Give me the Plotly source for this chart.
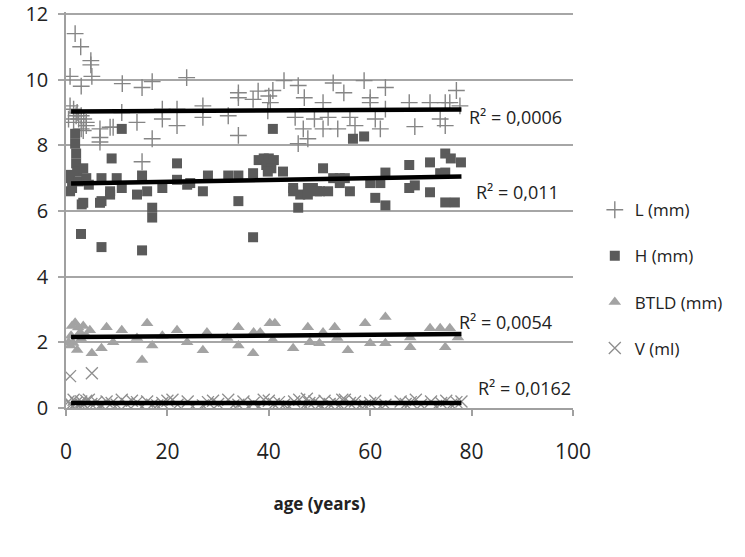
import plotly.graph_objects as go

# ---------------- data ----------------
L_age = [0.8, 1.8, 2.9, 4.9, 4.9, 5.1, 3.0, 11.1, 15, 17, 23.8,
         0.8, 1.5, 2, 2.5, 3, 3.5, 4, 1.5, 3, 4, 3.4, 0.5, 2.2,
         6.7, 6.7, 6.7, 8.7, 9.3, 11, 14, 15, 17, 19, 19, 21.9, 21.9,
         27, 27, 32, 34, 34, 34, 36.9, 37.9, 40, 40.3, 39.8, 40.8, 43, 45.2, 45.8, 47, 46.8, 47.7, 45.8, 49, 50.7, 50.7, 51.7,
         52.7, 53.6, 54.8, 56, 57, 58.8, 60, 60, 61, 62, 63, 63, 67.7, 68.8, 71.8, 74.8, 75.7, 73.8, 74.8, 77, 77.7]
L_val = [10.1, 11.4, 11.0, 10.58, 10.45, 10.1, 9.8, 9.88, 9.76, 9.94, 10.06,
         9.2, 9.1, 8.9, 8.8, 8.9, 8.8, 8.6, 8.7, 8.5, 8.7, 8.45, 8.8, 9.0,
         8.5, 8.24, 8.1, 8.55, 8.55, 9.0, 8.7, 7.5, 8.2, 9.1, 8.8, 9.1, 8.6,
         9.2, 8.85, 8.9, 9.6, 9.45, 8.3, 9.4, 9.65, 9.5, 9.3, 9.05, 9.67, 9.97, 8.85, 9.82, 9.45, 8.5, 8.2, 8.05, 8.8, 9.3, 8.5, 8.85,
         9.9, 8.5, 9.6, 8.85, 8.6, 9.97, 9.45, 9.3, 8.8, 8.5, 9.76, 9.1, 9.3, 8.57, 9.3, 9.3, 9.3, 8.8, 8.6, 9.67, 9.2]

H_age = [0.5, 0.8, 0.8, 1.2, 1.8, 1.8, 2, 2, 2.2, 2.5, 3.1, 2.96, 3.4, 4, 3.4, 4.5, 7, 6.7, 7, 7,
         8.7, 8.7, 9, 10, 11, 11, 14, 15, 15, 16, 17, 17, 19, 21.9, 21.9, 23.9, 24.5, 27, 28, 32,
         34, 34, 36.9, 36.9, 38, 39, 40, 41, 39.5, 40.5, 39.8, 40.8, 42.8, 44.8, 44.8, 45.8, 46.2,
         47.7, 47.7, 48.7, 49.5, 50.7, 50.1, 51.7, 52.7, 54, 55, 54, 56, 56.6, 58.8, 60, 62, 61, 63, 63,
         67.7, 67.7, 68.8, 71.8, 71.8, 73.8, 74.8, 74.8, 75.9, 77.9, 74.8, 76.7]
H_val = [7.1, 7.0, 6.6, 6.7, 8.35, 8.05, 7.75, 7.45, 7.2, 6.9, 6.2, 5.3, 7.3, 7.0, 6.25, 6.8, 7.0, 6.25, 6.3, 4.9,
         6.6, 6.5, 7.6, 7.0, 8.5, 6.7, 6.5, 7.08, 4.8, 6.6, 6.1, 5.8, 6.7, 7.45, 6.95, 6.8, 6.85, 6.6, 7.08, 7.08,
         7.08, 6.3, 7.15, 5.2, 7.55, 7.6, 7.6, 7.55, 7.4, 7.3, 7.2, 8.5, 7.2, 6.7, 6.6, 6.1, 6.5,
         6.7, 6.5, 6.7, 6.6, 7.3, 6.6, 6.6, 7.0, 7.0, 7.0, 6.85, 6.6, 8.2, 8.27, 6.85, 6.85, 6.4, 7.17, 6.17,
         7.4, 6.7, 6.78, 7.48, 6.57, 7.15, 7.75, 7.17, 7.6, 7.48, 6.26, 6.26]

B_age = [0.5, 1, 1.8, 2.4, 3.4, 1.4, 2.2, 3, 4.7, 5.1, 4, 1.2, 2.8, 0.8, 7, 8, 9.3, 11, 14, 15, 16, 17,
         19, 21.9, 23.9, 27, 27.8, 31.8, 34, 34, 36.9, 37, 38.3, 40.2, 41.2, 40.8, 44.8, 47.7, 48.1,
         50, 50.7, 53, 53.5, 55.6, 59, 60, 63, 63, 67.9, 67.9, 71.8, 73.8, 74.8, 75.7, 77.3]
B_val = [2.0, 2.2, 2.6, 2.45, 2.5, 1.98, 1.77, 2.1, 2.37, 1.67, 2.2, 2.5, 2.3, 1.9, 1.82, 2.46, 2.0, 2.37, 2.13, 1.46, 2.58, 1.9,
         2.2, 2.37, 2.0, 1.76, 2.3, 2.13, 2.46, 1.9, 1.67, 2.3, 2.3, 2.58, 2.58, 2.07, 1.82, 2.46, 2.0,
         1.97, 2.3, 2.46, 2.13, 1.76, 2.58, 1.97, 2.77, 1.97, 1.85, 2.15, 2.43, 2.43, 1.85, 2.43, 2.15]

V_age = [0.8, 5.1, 0.5, 1, 1.5, 2, 2.5, 3, 3.5, 4, 5, 6, 7, 8, 9, 10, 11, 12, 14, 15, 16, 17, 19, 20,
         22, 24, 27, 28, 30, 32, 34, 35, 37, 38, 40, 41, 42, 43, 45, 46, 47, 48, 49, 50, 51, 52,
         53, 54, 55, 56, 57, 58, 60, 61, 63, 66, 67, 68, 70, 72, 74, 75, 76, 77,
         1.2, 2.8, 4.5, 6.5, 13, 18, 21, 25, 29, 33, 36, 39, 44, 47.5, 50.5, 54.5, 59, 62, 69, 73, 78]
V_val = [0.97, 1.06, 0.2, 0.1, 0.25, 0.15, 0.05, 0.2, 0.1, 0.22, 0.12, 0.18, 0.08, 0.2, 0.15, 0.1, 0.25, 0.12, 0.18, 0.05, 0.2, 0.1,
         0.15, 0.22, 0.1, 0.2, 0.08, 0.18, 0.12, 0.25, 0.1, 0.2, 0.15, 0.05, 0.22, 0.12, 0.18, 0.1, 0.2, 0.25,
         0.08, 0.15, 0.2, 0.1, 0.22, 0.12, 0.18, 0.1, 0.25, 0.15, 0.2, 0.08, 0.15, 0.22, 0.1, 0.2, 0.12, 0.18,
         0.1, 0.2, 0.15, 0.22, 0.1, 0.18,
         0.05, 0.12, 0.25, 0.05, 0.22, 0.08, 0.25, 0.05, 0.22, 0.08, 0.05, 0.25, 0.05, 0.28, 0.05, 0.25, 0.08, 0.05, 0.25, 0.06, 0.2]

# linear trend lines (end values)
trend_age = [1, 78]
L_trend = [9.03, 9.09]
H_trend = [6.84, 7.05]
B_trend = [2.16, 2.25]
V_trend = [0.15, 0.15]

series_names = ["L (mm)", "H (mm)", "BTLD (mm)", "V (ml)"]
r2_labels = ["R² = 0,0006", "R² = 0,011", "R² = 0,0054", "R² = 0,0162"]
r2_x = [79, 80.5, 77.2, 80.8]
r2_y = [8.85, 6.57, 2.62, 0.6]

x_ticks = [0, 20, 40, 60, 80, 100]
y_ticks = [0, 2, 4, 6, 8, 10, 12]

FONT = "Open Sans"
TXT = "#222222"
GRID = "#a6a6a6"
fig = go.Figure()

fig.add_trace(go.Scatter(x=L_age, y=L_val, mode="markers", name=series_names[0], legendgroup="a",
                         marker=dict(symbol="cross-thin", size=12, line=dict(color="#858585", width=1.4))))
fig.add_trace(go.Scatter(x=H_age, y=H_val, mode="markers", name=series_names[1], legendgroup="b",
                         marker=dict(symbol="square", size=10, color="#5a5a5a")))
fig.add_trace(go.Scatter(x=B_age, y=B_val, mode="markers", name=series_names[2], legendgroup="c",
                         marker=dict(symbol="triangle-up", size=11, color="#a3a3a3")))
fig.add_trace(go.Scatter(x=V_age, y=V_val, mode="markers", name=series_names[3], legendgroup="d",
                         marker=dict(symbol="x-thin", size=12, line=dict(color="#8f8f8f", width=1.3))))

for tr in [L_trend, H_trend, B_trend, V_trend]:
    fig.add_trace(go.Scatter(x=trend_age, y=tr, mode="lines", showlegend=False,
                             line=dict(color="black", width=4.5), hoverinfo="skip"))

for lab, xx, yy in zip(r2_labels, r2_x, r2_y):
    fig.add_annotation(x=xx, y=yy, text=lab, showarrow=False, xanchor="left", yanchor="middle",
                       font=dict(family=FONT, size=18, color=TXT))

# top gridline (plotly drops the grid line at the very edge of the plot area)
fig.add_hline(y=y_ticks[-1], line=dict(color=GRID, width=1.5), layer="below")

fig.update_layout(
    width=745, height=557,
    margin=dict(l=66, r=172, t=12, b=149, autoexpand=False),
    plot_bgcolor="white", paper_bgcolor="white",
    font=dict(family=FONT, color=TXT),
    legend=dict(x=1.043, y=0.545, xanchor="left", yanchor="top", tracegroupgap=21,
                font=dict(family=FONT, size=17, color=TXT), bgcolor="rgba(0,0,0,0)"),
    xaxis=dict(range=[0, 100], tickvals=x_ticks, showgrid=False, zeroline=False, automargin=False,
               showline=True, linecolor="#a0a0a0", linewidth=1.5,
               ticks="outside", ticklen=6, tickcolor="#a0a0a0", tickwidth=1.5,
               ticklabelstandoff=18, tickfont=dict(family=FONT, size=21, color=TXT),
               title=dict(text="<b>age (years)</b>", standoff=34,
                          font=dict(family=FONT, size=17, color=TXT))),
    yaxis=dict(range=[0, 12.06], tickvals=y_ticks, showgrid=True, gridcolor=GRID, gridwidth=1.5,
               zeroline=False, automargin=False, showline=True, linecolor="#a0a0a0", linewidth=1.5,
               ticks="outside", ticklen=6, tickcolor=GRID, tickwidth=1.5,
               ticklabelstandoff=6, ticklabeloverflow="allow",
               tickfont=dict(family=FONT, size=20, color=TXT)),
)

fig.write_html("out.html", config={"displayModeBar": False},
               post_script="document.body.style.margin='0px';")
